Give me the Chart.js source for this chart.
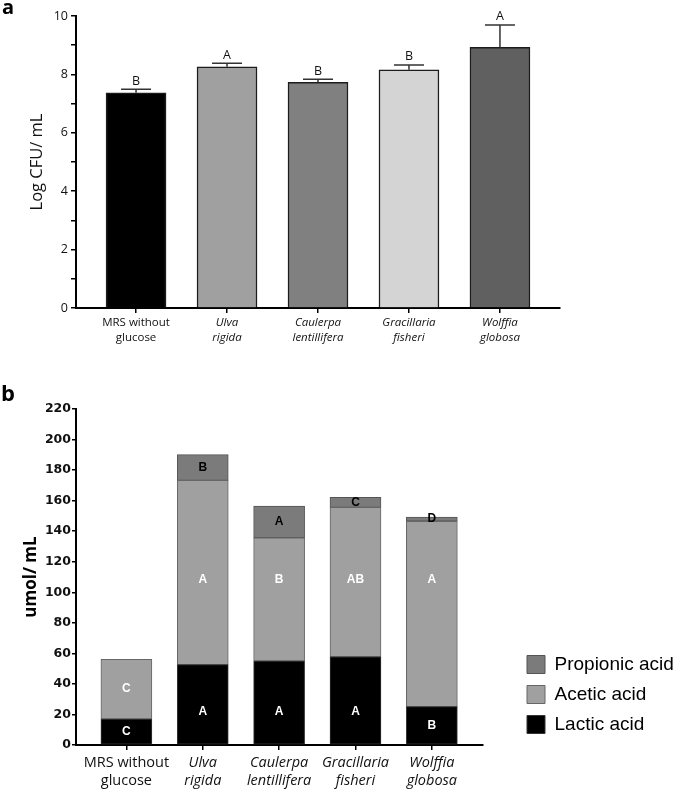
<!DOCTYPE html>
<html>
<head>
<meta charset="utf-8">
<script src="https://cdn.jsdelivr.net/npm/chart.js@4.4.1/dist/chart.umd.min.js"></script>
<style>
  html, body { margin: 0; padding: 0; background: #fff; }
  #wrap { position: relative; width: 685px; height: 791px; }
  #chartA { position: absolute; left: 0; top: 0; }
  #chartB { position: absolute; left: 0; top: 380px; }
</style>
</head>
<body>
<div id="wrap">
  <canvas id="chartA" width="685" height="365"></canvas>
  <canvas id="chartB" width="685" height="411"></canvas>
</div>
<script>
// =========================
// DATOS
// =========================
const grupos = [
  ["MRS without", "glucose"],
  ["Ulva", "rigida"],
  ["Caulerpa", "lentillifera"],
  ["Gracillaria", "fisheri"],
  ["Wolffia", "globosa"]
];

// panel a: Log CFU/ mL
const logCfu = [7.37, 8.26, 7.73, 8.16, 8.93];
const logCfuErr = [0.12, 0.12, 0.10, 0.16, 0.76];
const letrasCfu = ["B", "A", "B", "B", "A"];

// panel b: umol/ mL
const lactico = [17.0, 52.6, 55.0, 57.8, 25.1];
const acetico = [39.1, 120.7, 80.6, 97.8, 121.4];
const propionico = [0, 16.8, 20.9, 6.6, 2.8];
const letrasLactico = ["C", "A", "A", "A", "B"];
const letrasAcetico = ["C", "A", "B", "AB", "A"];
const letrasPropionico = ["", "B", "A", "C", "D"];

const fuente = "'Open Sans', sans-serif";
const fuenteArial = "'Liberation Sans', Arial, sans-serif";

const aPuntos = (arr) => arr.map((v, i) => ({ x: i, y: v }));

// =========================
// PLUGINS
// =========================
const barrasError = {
  id: "barrasError",
  afterDatasetsDraw(chart) {
    const { ctx, scales: { y } } = chart;
    const meta = chart.getDatasetMeta(0);
    ctx.save();
    meta.data.forEach((bar, i) => {
      const tope = y.getPixelForValue(logCfu[i] + logCfuErr[i]);
      ctx.strokeStyle = "#333";
      ctx.lineWidth = 1.5;
      ctx.beginPath();
      ctx.moveTo(bar.x, bar.y);
      ctx.lineTo(bar.x, tope);
      ctx.moveTo(bar.x - 15, tope);
      ctx.lineTo(bar.x + 15, tope);
      ctx.stroke();
      ctx.fillStyle = "#111";
      ctx.font = "12.5px " + fuente;
      ctx.textAlign = "center";
      ctx.textBaseline = "bottom";
      ctx.fillText(letrasCfu[i], bar.x, tope - 2);
    });
    ctx.font = "bold 20px " + fuente;
    ctx.textAlign = "left";
    ctx.textBaseline = "alphabetic";
    ctx.fillStyle = "#000";
    ctx.fillText("a", 2, 14);
    ctx.restore();
  }
};

const letrasApiladas = {
  id: "letrasApiladas",
  afterLayout(chart) {
    // la leyenda va separada del eje y termina con el área del gráfico
    if (chart.legend) {
      const w = chart.legend.width;
      chart.legend.left = 516;
      chart.legend.right = 516 + w;
      chart.legend.bottom = chart.chartArea.bottom;
    }
  },
  afterDatasetsDraw(chart) {
    const { ctx, scales: { y } } = chart;
    const capas = [
      { letras: letrasLactico, color: "#fff", nivel: 22 },
      { letras: letrasAcetico, color: "#fff", nivel: 108 },
      { letras: letrasPropionico, color: "#000", nivel: null }
    ];
    ctx.save();
    ctx.font = "bold 12px " + fuenteArial;
    ctx.textAlign = "center";
    ctx.textBaseline = "middle";
    capas.forEach((capa, d) => {
      const meta = chart.getDatasetMeta(d);
      meta.data.forEach((bar, i) => {
        const txt = capa.letras[i];
        if (!txt) return;
        const ini = y.getValueForPixel(bar.base);
        const fin = y.getValueForPixel(bar.y);
        let yy = (bar.y + bar.base) / 2;
        if (capa.nivel !== null && capa.nivel > ini + 10 && capa.nivel < fin - 10) {
          yy = y.getPixelForValue(capa.nivel);
        }
        ctx.fillStyle = capa.color;
        ctx.fillText(txt, bar.x, yy);
      });
    });
    ctx.font = "bold 22px " + fuente;
    ctx.textAlign = "left";
    ctx.textBaseline = "alphabetic";
    ctx.fillStyle = "#000";
    ctx.fillText("b", 1, 21);
    ctx.restore();
  }
};

// =========================
// PANEL A
// =========================
new Chart(document.getElementById("chartA"), {
  type: "bar",
  data: {
    datasets: [
      {
        data: aPuntos(logCfu),
        backgroundColor: ["#000000", "#a0a0a0", "#808080", "#d4d4d4", "#606060"],
        borderColor: "#1c1c1c",
        borderWidth: 1.5,
        barThickness: 60
      }
    ]
  },
  options: {
    responsive: false,
    animation: false,
    devicePixelRatio: 1,
    layout: { padding: { top: 16, right: 125, left: 0, bottom: 0 } },
    plugins: { legend: { display: false }, tooltip: { enabled: false } },
    scales: {
      x: {
        type: "linear",
        offset: false,
        min: -0.66,
        max: 4.66,
        afterBuildTicks: (s) => { s.ticks = grupos.map((g, i) => ({ value: i })); },
        afterFit: (s) => { s.height = 57; },
        grid: { offset: false, drawOnChartArea: false, tickLength: 5, color: "#000", lineWidth: 1.5 },
        border: { color: "#000", width: 2 },
        ticks: {
          color: "#111",
          maxRotation: 0,
          autoSkip: false,
          padding: 2,
          callback: (v) => grupos[v],
          font: (c) => ({ family: fuente, size: 11.5, lineHeight: 1.3, style: c.index === 0 ? "normal" : "italic" })
        }
      },
      y: {
        min: 0,
        max: 10,
        afterFit: (s) => { s.width = 76; },
        grid: { drawOnChartArea: false, tickLength: 5, color: "#000", lineWidth: 1.5 },
        border: { color: "#000", width: 2 },
        ticks: {
          stepSize: 1,
          color: "#111",
          padding: 3,
          callback: (v) => (v % 2 ? "" : v),
          font: { family: fuente, size: 12.5 }
        },
        title: {
          display: true,
          text: "Log CFU/ mL",
          color: "#111",
          font: { family: fuente, size: 16.5 },
          padding: { top: 27, bottom: 0 }
        }
      }
    }
  },
  plugins: [barrasError]
});

// =========================
// PANEL B
// =========================
const estiloBarraB = { barThickness: 51, stack: "s", borderWidth: 1, borderSkipped: false };

new Chart(document.getElementById("chartB"), {
  type: "bar",
  data: {
    datasets: [
      { label: "Lactic acid", data: aPuntos(lactico), backgroundColor: "#000000", borderColor: "#333333", ...estiloBarraB },
      { label: "Acetic acid", data: aPuntos(acetico), backgroundColor: "#a0a0a0", borderColor: "#666666", ...estiloBarraB },
      { label: "Propionic acid", data: aPuntos(propionico), backgroundColor: "#7b7b7b", borderColor: "#555555", ...estiloBarraB }
    ]
  },
  options: {
    responsive: false,
    animation: false,
    devicePixelRatio: 1,
    layout: { padding: { top: 29, right: 42, left: 0, bottom: 0 } },
    plugins: {
      tooltip: { enabled: false },
      legend: {
        position: "right",
        align: "end",
        reverse: true,
        labels: {
          boxWidth: 18,
          boxHeight: 18,
          padding: 11,
          color: "#000",
          font: { family: fuenteArial, size: 19 }
        }
      }
    },
    scales: {
      x: {
        type: "linear",
        offset: false,
        stacked: true,
        min: -0.66,
        max: 4.66,
        afterBuildTicks: (s) => { s.ticks = grupos.map((g, i) => ({ value: i })); },
        afterFit: (s) => { s.height = 46; },
        grid: { offset: false, drawOnChartArea: false, tickLength: 5, color: "#000", lineWidth: 1.5 },
        border: { color: "#000", width: 2 },
        ticks: {
          color: "#111",
          maxRotation: 0,
          autoSkip: false,
          padding: 3,
          callback: (v) => grupos[v],
          font: (c) => ({ family: fuente, size: 14.5, lineHeight: 1.3, style: c.index === 0 ? "normal" : "italic" })
        }
      },
      y: {
        stacked: true,
        min: 0,
        max: 220,
        afterFit: (s) => { s.width = 76; },
        grid: { drawOnChartArea: false, tickLength: 4, color: "#000", lineWidth: 1.5 },
        border: { color: "#000", width: 2 },
        ticks: {
          stepSize: 20,
          color: "#111",
          padding: 1,
          font: { family: "'DejaVu Sans', sans-serif", weight: "bold", size: 12.5 }
        },
        title: {
          display: true,
          text: "umol/ mL",
          color: "#000",
          font: { family: fuente, weight: "bold", size: 17 },
          padding: { top: 21, bottom: 0 }
        }
      }
    }
  },
  plugins: [letrasApiladas]
});
</script>
</body>
</html>
